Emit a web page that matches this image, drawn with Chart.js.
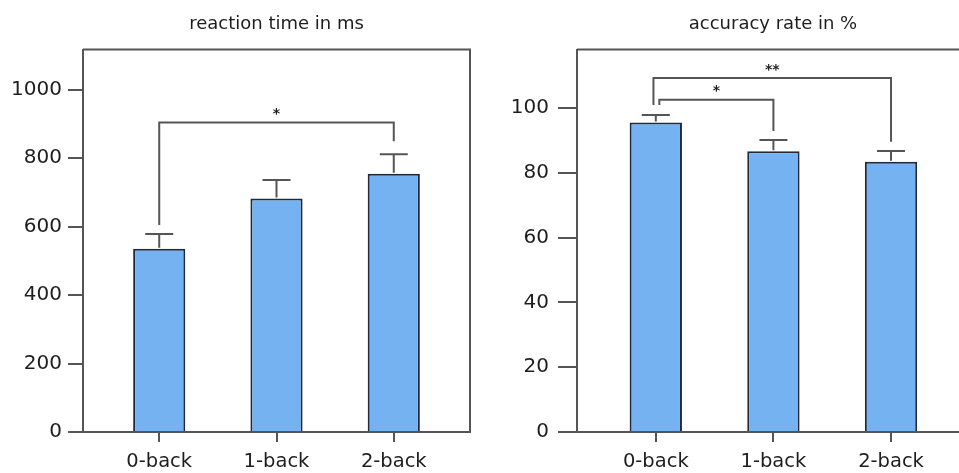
<!DOCTYPE html>
<html><head><meta charset="utf-8">
<script src="https://cdn.jsdelivr.net/npm/chart.js@4"></script>
<style>
html,body{margin:0;padding:0;background:#fff;overflow:hidden;width:959px;height:473px;}
#wrap{position:absolute;left:0;top:0;width:959px;height:473px;overflow:hidden;}
#c1{position:absolute;left:0;top:0;}
#c2{position:absolute;left:480px;top:0;}
</style></head><body>
<div id="wrap">
<canvas id="c1" width="480" height="473"></canvas>
<canvas id="c2" width="520" height="473"></canvas>
</div>
<script>
// ---- data ----
const categories = ['0-back', '1-back', '2-back'];

const rtTitle = 'reaction time in ms';
const rtMeans = [535, 682, 754];
const rtErrorTops = [578, 736, 811];
const rtTicks = [0, 200, 400, 600, 800, 1000];
const rtBrackets = [
  { from: 0, to: 2, level: 904, fromEnd: 605, toEnd: 849, label: '*' }
];

const accTitle = 'accuracy rate in %';
const accMeans = [95.5, 86.6, 83.4];
const accErrorTops = [97.8, 90.1, 86.7];
const accTicks = [0, 20, 40, 60, 80, 100];
const accBrackets = [
  { from: -0.02, to: 2, level: 109.2, fromEnd: 100.9, toEnd: 89.6, label: '**' },
  { from: 0.03, to: 1, level: 102.5, fromEnd: 100.9, toEnd: 92.9, label: '*' }
];

// ---- styling ----
Chart.defaults.font.family = "'DejaVu Sans', sans-serif";
const AXIS = '#555555';
const TEXT = '#1e1e1e';
const BAR_FILL = '#74b2f2';
const BAR_EDGE = '#1f2b3a';

function makeChart(canvas, cfg) {
  const overlay = {
    id: 'overlay',
    afterDatasetsDraw(chart) {
      const ctx = chart.ctx;
      const xs = chart.scales.x, ys = chart.scales.y;
      const a = chart.chartArea;
      ctx.save();
      ctx.strokeStyle = AXIS;
      ctx.lineWidth = 2;
      ctx.lineCap = 'butt';
      // error bars (upper only)
      cfg.means.forEach((m, i) => {
        const x = xs.getPixelForValue(i);
        const y0 = ys.getPixelForValue(m);
        const y1 = ys.getPixelForValue(cfg.errTops[i]);
        ctx.beginPath();
        ctx.moveTo(x, y0 - 1); ctx.lineTo(x, y1);
        ctx.moveTo(x - 14, y1); ctx.lineTo(x + 14, y1);
        ctx.stroke();
      });
      // significance brackets
      cfg.brackets.forEach(b => {
        const x1 = xs.getPixelForValue(b.from);
        const x2 = xs.getPixelForValue(b.to);
        const yl = ys.getPixelForValue(b.level);
        ctx.beginPath();
        ctx.moveTo(x1, ys.getPixelForValue(b.fromEnd));
        ctx.lineTo(x1, yl);
        ctx.lineTo(x2, yl);
        ctx.lineTo(x2, ys.getPixelForValue(b.toEnd));
        ctx.stroke();
        ctx.fillStyle = TEXT;
        ctx.font = "bold 14px 'DejaVu Sans', sans-serif";
        ctx.textAlign = 'center';
        ctx.textBaseline = 'bottom';
        ctx.fillText(b.label, (x1 + x2) / 2, yl - 1);
      });
      // box: top and right edges
      ctx.beginPath();
      ctx.moveTo(a.left, a.top);
      ctx.lineTo(a.right, a.top);
      ctx.lineTo(a.right, a.bottom);
      ctx.stroke();
      ctx.restore();
    }
  };

  return new Chart(canvas, {
    type: 'bar',
    data: {
      datasets: [{
        data: cfg.means.map((v, i) => ({ x: i, y: v })),
        backgroundColor: BAR_FILL,
        borderColor: BAR_EDGE,
        borderWidth: 2,
        barPercentage: 0.445,
        categoryPercentage: 1
      }]
    },
    options: {
      responsive: false,
      animation: false,
      events: [],
      layout: { padding: { left: 0, right: cfg.padRight, top: 0, bottom: 0 } },
      plugins: {
        legend: { display: false },
        tooltip: { enabled: false },
        title: {
          display: true,
          text: cfg.title,
          fullSize: false,
          color: TEXT,
          font: { size: 18, weight: 'normal', lineHeight: 1.2 },
          padding: { top: 14, bottom: 14 }
        }
      },
      scales: {
        x: {
          type: 'linear',
          min: cfg.xmin,
          max: cfg.xmax,
          offset: false,
          afterBuildTicks: s => { s.ticks = categories.map((c, i) => ({ value: i })); },
          afterFit: s => { s.height = 41; },
          ticks: {
            callback: v => categories[v],
            color: TEXT,
            font: { size: 19.5 },
            padding: 8,
            autoSkip: false,
            maxRotation: 0
          },
          grid: { offset: false, drawOnChartArea: false, drawTicks: true, tickLength: 10, color: AXIS, lineWidth: 2 },
          border: { display: true, color: AXIS, width: 2 }
        },
        y: {
          min: 0,
          max: cfg.ymax,
          afterBuildTicks: s => { s.ticks = cfg.ticks.map(v => ({ value: v })); },
          afterFit: s => { s.width = cfg.yWidth; },
          ticks: { color: TEXT, font: { size: 20 }, padding: cfg.tickPad, callback: v => String(v) },
          grid: { drawOnChartArea: false, drawTicks: true, tickLength: cfg.tickLen, color: AXIS, lineWidth: 2 },
          border: { display: true, color: AXIS, width: 2 }
        }
      }
    },
    plugins: [overlay]
  });
}

makeChart(document.getElementById('c1'), {
  title: rtTitle, means: rtMeans, errTops: rtErrorTops, ticks: rtTicks, brackets: rtBrackets,
  ymax: 1117, xmin: -0.65, xmax: 2.65, yWidth: 83, tickLen: 15, tickPad: 6, padRight: 10
});
makeChart(document.getElementById('c2'), {
  title: accTitle, means: accMeans, errTops: accErrorTops, ticks: accTicks, brackets: accBrackets,
  ymax: 118, xmin: -0.67, xmax: 2.663, yWidth: 97, tickLen: 19, tickPad: 9, padRight: 31
});
</script>
</body></html>
